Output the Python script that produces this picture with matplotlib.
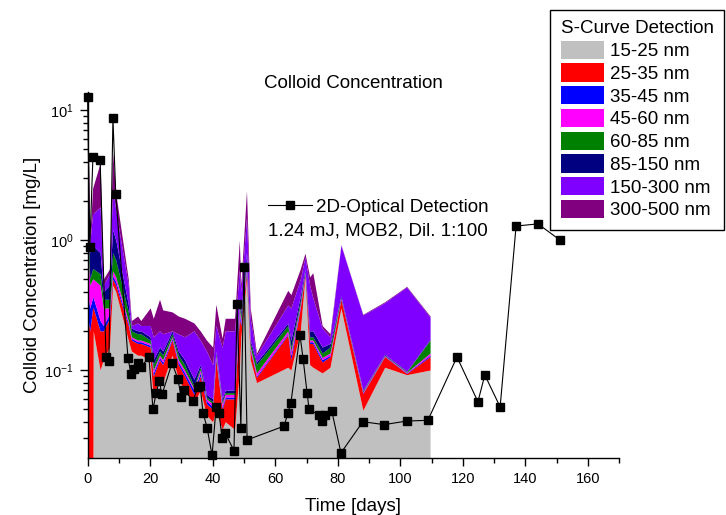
import numpy as np
import matplotlib
matplotlib.use("Agg")
import matplotlib.pyplot as plt
from matplotlib.patches import Patch
from matplotlib.ticker import MultipleLocator, LogLocator

plt.rcParams['font.family'] = ['Liberation Sans', 'DejaVu Sans']
plt.rcParams['mathtext.default'] = 'regular'

# ---------------- data ----------------
# 2D-Optical detection (black squares)
opt_days = [0, 0.7, 1.7, 4, 5.9, 6.8, 8.1, 9, 12.9, 13.9, 14.8, 16.1, 17.1, 19.6,
            20.9, 21.9, 22.9, 23.8, 27, 28.9, 29.9, 30.9, 33.7, 35.3, 36, 36.9,
            38.2, 39.8, 41.1, 42, 43, 43.9, 46.8, 47.8, 49, 50, 51, 62.8, 64.1,
            65, 67.9, 68.9, 70.2, 70.8, 74, 75, 75.9, 78.1, 81, 88, 94.8, 102.1,
            108.8, 118.1, 124.8, 127, 131.9, 137, 144, 151]
opt_vals = [12.6, 0.88, 4.35, 4.13, 0.126, 0.117, 8.7, 2.26, 0.124, 0.093, 0.102,
            0.113, 0.105, 0.126, 0.050, 0.066, 0.082, 0.065, 0.113, 0.085, 0.062,
            0.070, 0.058, 0.074, 0.075, 0.047, 0.036, 0.022, 0.052, 0.047, 0.030,
            0.033, 0.024, 0.32, 0.036, 0.62, 0.029, 0.037, 0.047, 0.056, 0.186,
            0.122, 0.066, 0.050, 0.045, 0.0405, 0.045, 0.048, 0.023, 0.040, 0.038,
            0.0405, 0.041, 0.126, 0.057, 0.0915, 0.052, 1.28, 1.33, 1.0]

# S-curve detection: upper edges of the stacked size classes (mg/L)
sc_days = [0, 0.7, 1.6, 1.8, 4, 5, 7, 8, 9, 13, 14, 16, 17, 20, 21, 23, 24, 27, 29,
           31, 34, 36, 38, 40, 41, 43, 44, 47, 48.5, 49, 50.8, 52, 54, 64, 65, 68,
           69.5, 71, 72, 75, 77.5, 81, 88, 95, 102, 109.5]
edge_15_25 = [.001, .001, .001, .2, .1, .12, .15, .45, .4, .17, .14, .13, .13, .12,
              .06, .09, .08, .13, .085, .07, .055, .07, .045, .04, .05, .035, .04,
              .035, .1, .18, .5, .12, .08, .105, .1, .2, .52, .11, .105, .095, .105,
              .3, .049, .105, .092, .1]
edge_25_35 = [.26, .2, .3, .3, .2, .2, .25, .5, .45, .22, .17, .16, .16, .15, .09,
              .12, .11, .17, .11, .09, .065, .09, .055, .05, .12, .05, .06, .06, .25,
              .22, .56, .14, .088, .186, .12, .3, .54, .16, .16, .115, .127, .35,
              .066, .127, .094, .127]
edge_35_45 = [.39, .3, .36, .36, .24, .22, .27, .53, .48, .23, .175, .165, .165,
              .155, .095, .125, .115, .175, .115, .095, .07, .095, .058, .052, .125,
              .052, .062, .062, .27, .23, .6, .145, .09, .19, .13, .31, .55, .165,
              .165, .12, .13, .352, .067, .128, .095, .13]
edge_45_60 = [1.0, .45, .5, .5, .45, .3, .3, .58, .52, .24, .18, .17, .17, .16, .1,
              .13, .12, .18, .12, .1, .072, .1, .06, .055, .13, .055, .065, .065, .3,
              .24, .65, .15, .095, .2, .14, .32, .56, .17, .17, .125, .135, .355,
              .068, .129, .096, .135]
edge_60_85 = [1.9, .5, .6, .6, .55, .35, .35, .8, .7, .28, .2, .19, .19, .17, .11,
              .14, .13, .19, .13, .11, .075, .105, .062, .057, .135, .057, .067,
              .067, .33, .26, .7, .16, .11, .22, .15, .34, .57, .18, .18, .135, .15,
              .36, .069, .13, .097, .17]
edge_85_150 = [2.3, .8, .9, .9, .8, .4, .45, 1.2, 1.0, .32, .21, .2, .2, .18, .12,
               .15, .14, .2, .14, .12, .085, .11, .065, .06, .14, .06, .07, .07, .36,
               .28, .8, .17, .115, .23, .17, .37, .6, .2, .2, .15, .16, .37, .07,
               .132, .098, .172]
edge_150_300 = [4.0, .95, 1.6, 1.6, 1.8, .45, .55, 2.5, 1.7, .45, .22, .23, .22,
                .22, .18, .2, .19, .2, .19, .18, .2, .17, .14, .11, .22, .15, .2, .2,
                .6, .4, 1.5, .25, .13, .316, .3, .5, .74, .45, .36, .21, .18, .91,
                .265, .33, .435, .255]
edge_300_500 = [12.5, 1.05, 2.5, 2.6, 3.9, .5, .6, 4.7, 2.3, .5, .24, .26, .24, .3,
                .25, .35, .29, .28, .26, .25, .23, .2, .17, .15, .32, .176, .25, .25,
                1.0, .45, 2.4, .3, .135, .41, .38, .6, .79, .52, .56, .22, .19, .92,
                .268, .335, .44, .26]

size_labels = ['15-25 nm', '25-35 nm', '35-45 nm', '45-60 nm', '60-85 nm',
               '85-150 nm', '150-300 nm', '300-500 nm']
size_colors = ['#C0C0C0', '#FF0000', '#0000FF', '#FF00FF', '#008000', '#000080',
               '#8000FF', '#800080']
edges = [edge_15_25, edge_25_35, edge_35_45, edge_45_60, edge_60_85, edge_85_150,
         edge_150_300, edge_300_500]

# ---------------- figure ----------------
W, H = 726, 515
fig = plt.figure(figsize=(W / 100, H / 100), dpi=100)
ax = fig.add_axes([87.6 / W, 57 / H, (619.3 - 87.6) / W, (458 - 92) / H])

lower = np.full(len(sc_days), 1e-4)
for e, c in zip(edges, size_colors):
    ax.fill_between(sc_days, lower, e, color=c, lw=0, zorder=1)
    lower = np.asarray(e)

line, = ax.plot(opt_days, opt_vals, '-', color='black', lw=0.8, marker='s',
                ms=6.2, mfc='black', mec='black', zorder=3, clip_on=False,
                label='2D-Optical Detection')

ax.set_yscale('log')
ax.set_xlim(0, 170)
ax.set_ylim(0.02104, 13.75)
ax.xaxis.set_major_locator(MultipleLocator(20))
ax.xaxis.set_minor_locator(MultipleLocator(10))
ax.yaxis.set_major_locator(LogLocator(base=10, numticks=10))
ax.yaxis.set_minor_locator(LogLocator(base=10, subs=np.arange(2, 10), numticks=20))

for s in ['top', 'right']:
    ax.spines[s].set_visible(False)
for s in ['left', 'bottom']:
    ax.spines[s].set_linewidth(1.0)
ax.tick_params(which='major', direction='out', length=6, width=1.0,
               labelsize=10.5, pad=4)
ax.tick_params(which='minor', direction='out', length=3.5, width=1.0)

ax.set_xlabel('Time [days]', fontsize=13.5, labelpad=9)
ax.set_ylabel('Colloid Concentration [mg/L]', fontsize=13.5, labelpad=2)
fig.text(353 / W, 1 - 83 / H, 'Colloid Concentration', fontsize=13.5,
         ha='center', va='center')

# size-class legend
handles = [Patch(facecolor=c, edgecolor='none', label=l)
           for c, l in zip(size_colors, size_labels)]
leg1 = fig.legend(handles=handles, loc='upper right',
                  bbox_to_anchor=(724 / W, 1 - 10 / H),
                  bbox_transform=fig.transFigure, title='S-Curve Detection',
                  alignment='left', fontsize=13.5, title_fontsize=13.5,
                  frameon=True, fancybox=False, framealpha=1, edgecolor='black',
                  handlelength=2.3, handleheight=1.12, labelspacing=0.175,
                  handletextpad=0.35, borderpad=0.55, borderaxespad=0)
leg1.get_frame().set_linewidth(1.0)

# optical legend
leg2 = ax.legend(handles=[line], loc='center left',
                 bbox_to_anchor=(268 / W, 1 - 207 / H),
                 bbox_transform=fig.transFigure, frameon=False, fontsize=13.5,
                 handlelength=2.35, handletextpad=0.2, borderpad=0,
                 borderaxespad=0)
fig.text(268 / W, 1 - 231 / H, '1.24 mJ, MOB2, Dil. 1:100', fontsize=13.5,
         ha='left', va='center')

fig.savefig('out.png', dpi=100)
